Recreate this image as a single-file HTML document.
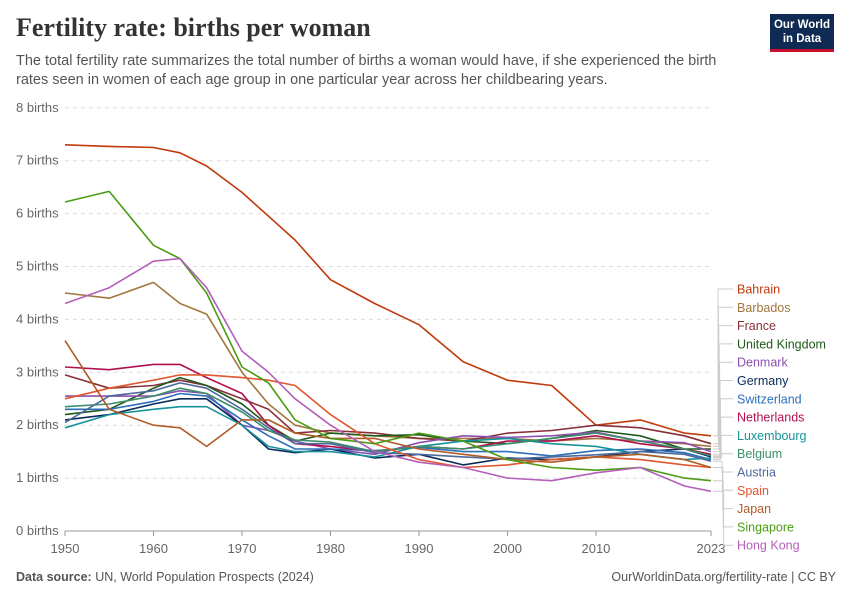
<!DOCTYPE html>
<html><head><meta charset="utf-8"><style>
body{margin:0;background:#fff;font-family:"Liberation Sans",sans-serif;}
#wrap{position:relative;width:850px;height:600px;overflow:hidden;}
h1{position:absolute;left:16px;top:13px;margin:0;font-family:"Liberation Serif",serif;font-weight:bold;font-size:26px;color:#333;}
.sub{position:absolute;left:16px;top:52px;width:728px;font-size:14.5px;line-height:19px;color:#555;}
.logo{position:absolute;left:770px;top:14px;width:64px;height:38px;background:#0f2b53;color:#fff;font-size:11.5px;font-weight:bold;text-align:center;line-height:14px;padding-top:4px;box-sizing:border-box;border-bottom:3px solid #c8102e;}
.foot{position:absolute;top:570px;font-size:12.5px;color:#555;}
</style></head><body>
<div id="wrap">
<h1>Fertility rate: births per woman</h1>
<div class="sub">The total fertility rate summarizes the total number of births a woman would have, if she experienced the birth rates seen in women of each age group in one particular year across her childbearing years.</div>
<div class="logo">Our World<br>in Data</div>
<svg id="plot" width="850" height="600" style="position:absolute;left:0;top:0"></svg>
<div class="foot" style="left:16px"><b>Data source:</b> UN, World Population Prospects (2024)</div>
<div class="foot" style="right:14px">OurWorldinData.org/fertility-rate | CC BY</div>
</div>
<script>
const years=[1950,1955,1960,1963,1966,1970,1973,1976,1980,1985,1990,1995,2000,2005,2010,2015,2020,2023];
const names=["Bahrain","Barbados","France","United Kingdom","Denmark","Germany","Switzerland","Netherlands","Luxembourg","Belgium","Austria","Spain","Japan","Singapore","Hong Kong"];
const colors=["#c0390b","#a2773f","#883039","#1f5a1a","#8c4fb0","#0b2a5b","#2c6fbb","#b0104f","#18929b","#3a8e6a","#4c6a9c","#e0562e","#b15b27","#4a9c13","#b45fb9"];
const bahrain=[7.3,7.27,7.25,7.15,6.9,6.4,5.95,5.5,4.75,4.3,3.9,3.2,2.85,2.75,2.0,2.1,1.85,1.8];
const barbados=[4.5,4.4,4.7,4.3,4.1,3.0,2.4,2.0,1.85,1.8,1.75,1.75,1.75,1.7,1.75,1.7,1.65,1.6];
const france=[2.95,2.7,2.75,2.85,2.75,2.5,2.3,1.85,1.9,1.85,1.75,1.7,1.85,1.9,2.0,1.95,1.8,1.65];
const uk=[2.2,2.3,2.7,2.9,2.75,2.4,2.0,1.7,1.85,1.8,1.82,1.7,1.65,1.75,1.9,1.8,1.55,1.55];
const denmark=[2.55,2.55,2.55,2.65,2.6,2.0,1.9,1.7,1.55,1.45,1.67,1.8,1.77,1.8,1.87,1.7,1.67,1.5];
const germany=[2.1,2.2,2.4,2.5,2.5,2.0,1.55,1.48,1.55,1.38,1.45,1.25,1.38,1.35,1.4,1.5,1.55,1.4];
const switzerland=[2.3,2.3,2.45,2.6,2.55,2.1,1.8,1.55,1.55,1.52,1.58,1.5,1.5,1.42,1.52,1.55,1.48,1.35];
const netherlands=[3.1,3.05,3.15,3.15,2.9,2.6,2.0,1.65,1.6,1.5,1.6,1.55,1.7,1.7,1.8,1.65,1.55,1.45];
const luxembourg=[1.95,2.2,2.3,2.35,2.35,2.0,1.6,1.5,1.5,1.4,1.6,1.7,1.75,1.65,1.6,1.45,1.35,1.38];
const belgium=[2.35,2.4,2.55,2.7,2.6,2.25,1.9,1.72,1.68,1.5,1.6,1.55,1.65,1.75,1.85,1.7,1.55,1.42];
const austria=[2.05,2.55,2.65,2.8,2.7,2.3,1.95,1.65,1.65,1.48,1.45,1.4,1.36,1.4,1.44,1.5,1.45,1.32];
const spain=[2.5,2.7,2.85,2.95,2.95,2.9,2.85,2.75,2.2,1.65,1.35,1.2,1.25,1.35,1.4,1.35,1.25,1.2];
const japan=[3.6,2.3,2.0,1.95,1.6,2.1,2.1,1.85,1.75,1.75,1.55,1.45,1.35,1.3,1.4,1.45,1.35,1.2];
const singapore=[6.22,6.42,5.4,5.15,4.5,3.1,2.8,2.1,1.75,1.65,1.85,1.7,1.35,1.2,1.15,1.2,1.0,0.95];
const hongkong=[4.3,4.6,5.1,5.15,4.6,3.4,3.0,2.5,2.0,1.5,1.3,1.2,1.0,0.95,1.1,1.2,0.85,0.75];
const series=[bahrain,barbados,france,uk,denmark,germany,switzerland,netherlands,luxembourg,belgium,austria,spain,japan,singapore,hongkong];
const yTicks=[0,1,2,3,4,5,6,7,8];
const xTicks=[1950,1960,1970,1980,1990,2000,2010,2023];
const NS="http://www.w3.org/2000/svg";
const svg=document.getElementById('plot');
const X=y=>65+(y-1950)*(646/73);
const Y=v=>531-v*52.9;
function mk(t,a){const e=document.createElementNS(NS,t);for(const k in a)e.setAttribute(k,a[k]);svg.appendChild(e);return e;}
yTicks.forEach(v=>{
  const g=mk('line',{x1:65,x2:711,y1:Y(v),y2:Y(v),stroke:v===0?'#999':'#ddd','stroke-dasharray':v===0?'':'4,4'});
  
  
  const t=mk('text',{x:16,y:Y(v)+4,'font-size':13,fill:'#666','font-family':'Liberation Sans, sans-serif'});
  t.textContent=v+' births';
  
  
});
xTicks.forEach(yr=>{
  const l=mk('line',{x1:X(yr),x2:X(yr),y1:531,y2:536,stroke:'#999'});
  
  
  const t=mk('text',{x:X(yr),y:553,'font-size':13,fill:'#666','text-anchor':'middle','font-family':'Liberation Sans, sans-serif'});
  t.textContent=yr;
  
  
});
series.forEach((s,i)=>{
  const d=s.map((v,j)=>(j?'L':'M')+X(years[j]).toFixed(1)+','+Y(v).toFixed(1)).join('');
  const p=mk('path',{d:d,fill:'none',stroke:colors[i],'stroke-width':1.6,'stroke-linejoin':'round'});
  
  
  const ly=289+i*18.3;
  const ey=Y(s[s.length-1]);
  const ex=718+i*0.4;
  const c=mk('path',{d:`M713,${ey.toFixed(1)}L${ex},${ey.toFixed(1)}L${ex},${ly}L733,${ly}`,fill:'none',stroke:'#ccc','stroke-width':1});
  
  
  const t=mk('text',{x:737,y:ly+4.5,'font-size':12.5,fill:colors[i],'font-family':'Liberation Sans, sans-serif'});
  t.textContent=names[i];
  
  
});
</script>
</body></html>
